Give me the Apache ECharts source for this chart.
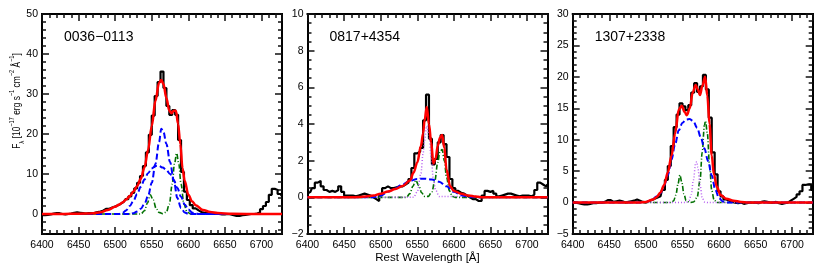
<!DOCTYPE html>
<html><head><meta charset="utf-8">
<script src="https://cdn.jsdelivr.net/npm/echarts@6/dist/echarts.min.js"></script>
<style>html,body{margin:0;padding:0;background:#fff}#c{width:830px;height:277px}</style>
</head><body><div id="c"></div>
<script>
// ---------------- DATA ----------------
const panelNames = ['0036\u22120113', '0817+4354', '1307+2338'];
const xTickStep = 50, xMinorStep = 10;
const yTickSteps = [10, 2, 5];
const yMinorSteps = [2, 0.5, 1];

// observed spectra (4 Å bins)
const waveObs = [6400,6404,6408,6412,6416,6420,6424,6428,6432,6436,6440,6444,6448,6452,6456,6460,6464,6468,6472,6476,6480,6484,6488,6492,6496,6500,6504,6508,6512,6516,6520,6524,6528,6532,6536,6540,6544,6548,6552,6556,6560,6564,6568,6572,6576,6580,6584,6588,6592,6596,6600,6604,6608,6612,6616,6620,6624,6628,6632,6636,6640,6644,6648,6652,6656,6660,6664,6668,6672,6676,6680,6684,6688,6692,6696,6700,6704,6708,6712,6716,6720,6724,6728];
const flux1 = [-0.3,-0.3,-0.2,-0.1,0.1,0.2,0.2,0.0,-0.1,0.0,
  0.1,0.3,0.4,0.3,0.2,0.1,0.2,0.2,0.3,0.5,
  0.6,0.9,1.3,1.3,1.6,1.9,2.2,2.6,3.1,3.7,
  4.4,5.3,6.4,7.8,9.5,12.0,15.4,19.8,24.6,29.5,
  33.0,35.6,31.5,27.0,24.8,26.0,24.8,18.5,10.5,5.6,
  3.5,2.2,1.4,0.9,0.5,0.3,0.2,0.1,0.1,0.0,
  0.0,-0.1,-0.1,0.0,-0.1,-0.3,-0.5,-0.5,-0.3,-0.2,
  -0.1,0.0,0.0,0.1,0.4,1.2,2.0,3.0,4.8,6.3,
  6.0,5.0,4.5];
const flux2 = [0.2,0.3,0.5,0.8,0.9,0.6,0.4,0.3,0.35,0.3,
  0.4,0.6,0.3,0.1,0.1,0.1,0.05,0.1,0.15,0.2,
  0.15,0.1,0.0,-0.1,-0.2,0.1,0.5,0.6,0.5,0.5,
  0.55,0.6,0.6,0.7,0.8,1.0,1.6,2.4,2.5,2.7,
  4.2,5.6,3.2,1.8,2.1,3.0,3.4,2.9,2.2,1.0,
  0.5,0.35,0.25,0.2,0.1,0.0,-0.1,-0.1,-0.2,-0.2,
  0.1,0.35,0.3,0.35,0.2,0.05,0.1,0.15,0.2,0.2,
  0.15,0.1,0.05,0.1,0.1,0.1,0.05,0.15,0.4,0.8,
  0.7,0.6,0.7];
const flux3 = [0.1,0.0,-0.1,-0.2,-0.3,-0.3,-0.2,-0.1,-0.1,0.0,
  0.0,0.1,0.4,0.4,0.1,0.2,0.3,0.2,0.0,0.1,
  0.2,0.3,0.5,0.3,0.1,0.0,0.2,0.4,0.6,0.8,
  1.0,2.0,3.6,5.8,9.0,12.0,14.0,15.8,15.3,14.7,
  15.5,17.5,19.0,17.6,18.5,20.3,18.0,13.5,8.0,4.5,
  1.8,1.0,0.5,0.3,0.1,0.0,-0.1,0.0,-0.2,-0.1,
  0.0,0.0,0.0,-0.1,0.1,0.2,0.1,0.0,0.0,0.1,
  -0.1,-0.2,-0.1,0.0,0.3,0.6,0.9,1.3,1.8,2.8,
  2.9,2.8,2.0];

// total fits (red)
const fitWave1 = [6400,6420,6440,6460,6470,6480,6490,6500,6505,6510,6515,6520,6525,6530,6535,6540,6545,6550,6555,6560,6563,6566,6570,6574,6577,6580,6583,6586,6589,6592,6595,6600,6605,6610,6620,6630,6640,6660,6700,6728];
const fit1 = [0,0,0.05,0.1,0.2,0.45,1.0,1.8,2.3,2.9,3.6,4.5,5.6,7.0,8.8,11.6,16.0,22.0,28.3,32.8,33.5,32.5,29.0,25.8,25.2,25.8,25.8,22.5,17.5,11.5,8.3,4.8,3.2,2.2,1.0,0.5,0.25,0.05,0,0];
const fitWave2 = [6400,6460,6470,6480,6490,6500,6510,6520,6530,6540,6545,6550,6555,6558,6560,6563,6566,6569,6572,6575,6578,6581,6584,6587,6590,6595,6600,6610,6620,6630,6640,6728];
const fit2 = [0,0,0.02,0.05,0.1,0.2,0.32,0.45,0.62,0.92,1.35,1.9,2.8,3.5,4.2,4.93,4.0,3.0,1.85,2.1,2.8,3.25,3.4,2.7,1.5,0.6,0.35,0.2,0.1,0.04,0,0];
const fitWave3 = [6400,6480,6490,6500,6510,6515,6520,6525,6530,6535,6540,6545,6549,6553,6556,6560,6564,6568,6571,6574,6577,6581,6584,6587,6590,6593,6597,6602,6610,6620,6630,6640,6728];
const fit3 = [0,0,0.03,0.1,0.5,0.9,1.6,2.8,4.8,7.4,11.0,14.8,15.4,14.4,13.9,15.0,17.5,18.7,18.0,17.1,18.5,20.0,17.0,12.5,7.5,4.5,2.5,1.2,0.6,0.3,0.1,0,0];

// components panel 1
const blueBroadWave1 = [6400,6505,6510,6515,6520,6525,6530,6535,6540,6545,6550,6555,6560,6565,6570,6575,6580,6585,6590,6595,6600,6605,6610,6615,6728];
const blueBroad1 = [0,0,0.3,0.9,2.0,3.3,5.0,6.8,8.6,10.2,11.4,12.0,12.0,11.6,11.0,10.0,8.5,6.5,4.3,2.4,1.1,0.4,0.1,0,0];
const blueNarrowWave1 = [6400,6520,6525,6530,6535,6540,6545,6550,6555,6560,6563,6566,6570,6575,6580,6585,6590,6595,6600,6728];
const blueNarrow1 = [0,0,0.2,0.6,1.3,2.5,4.5,7.8,12.5,18.0,21.3,20.5,17.5,13.0,8.5,4.0,1.5,0.4,0,0];
const greenWave1 = [6400,6535,6540,6544,6548,6552,6556,6560,6565,6570,6574,6578,6581,6584,6587,6590,6594,6598,6603,6728];
const green1 = [0,0,0.8,2.7,4.8,3.5,1.4,0.4,0.1,0.5,2.5,7.5,12.5,15.2,12.5,7.5,2.5,0.6,0,0];

// components panel 2
const blueWave2 = [6400,6490,6500,6510,6520,6530,6540,6550,6560,6570,6580,6590,6600,6610,6620,6630,6728];
const blue2 = [0,0,0.1,0.3,0.5,0.7,0.9,1.0,1.02,0.97,0.85,0.6,0.3,0.12,0.03,0,0];
const purpleWave2 = [6400,6545,6550,6555,6558,6560,6563,6566,6569,6572,6575,6580,6728];
const purple2 = [0,0,0.3,1.3,2.4,3.1,3.9,3.4,2.2,1.0,0.4,0.05,0];
const greenWave2 = [6400,6535,6540,6544,6548,6552,6556,6560,6565,6570,6574,6578,6581,6584,6587,6590,6594,6598,6602,6728];
const green2 = [0,0,0.2,0.6,0.93,0.65,0.25,0.05,0.05,0.3,0.9,1.9,2.5,2.6,2.0,1.1,0.35,0.05,0,0];

// components panel 3
const blueWave3 = [6400,6490,6500,6505,6510,6515,6520,6525,6530,6535,6540,6545,6550,6555,6560,6565,6570,6575,6580,6585,6590,6595,6600,6605,6610,6728];
const blue3 = [0,0,0.1,0.3,0.6,1.0,1.5,2.7,4.4,6.8,9.3,11.5,12.7,13.2,13.3,12.9,11.9,10.4,8.6,6.6,4.3,2.0,0.7,0.2,0,0];
const greenWave3 = [6400,6535,6538,6541,6544,6546.5,6549,6552,6555,6560,6565,6570,6574,6577,6580,6581.5,6584,6587,6590,6593,6597,6728];
const green3 = [0,0,0.3,1.2,3.0,4.4,3.3,1.4,0.3,0,0.1,0.8,3.5,8.0,12.3,13.0,11.0,6.0,2.0,0.5,0,0];
const purpleWave3 = [6400,6555,6559,6562,6565,6568,6569.5,6571,6574,6577,6580,6585,6728];
const purple3 = [0,0,0.3,1.3,3.6,6.2,6.5,5.6,2.8,0.8,0.1,0,0];

// ---------------- CHART ----------------
const FONT = '"Liberation Sans", Arial, Helvetica, sans-serif';
const X_MIN = 6400, X_MAX = 6728;
const panels = [
  { left: 42, yMin: -5, yMax: 50 },
  { left: 307.5, yMin: -2, yMax: 10 },
  { left: 572.7, yMin: -5, yMax: 30 }
];
const fmt = v => (v < 0 ? '\u2212' + Math.abs(v) : String(v));
function tickSpec(min, max, step) {
  if (Math.abs(min / step - Math.round(min / step)) < 1e-9) return { interval: step };
  return { splitNumber: Math.round((max - min) / step) };
}
function axis(kind, gi, pos, min, max, len, labels, spec, extraLabel) {
  return Object.assign({ type: 'value', gridIndex: gi, position: pos, min: min, max: max,
    axisLine: { show: true, onZero: false, lineStyle: { color: '#000', width: 2 } },
    axisTick: { show: true, inside: true, length: len, lineStyle: { color: '#111', width: 1.5 } },
    axisLabel: Object.assign({ show: labels, margin: kind === 'x' ? 6 : 4, fontSize: 10.5, color: '#000', fontFamily: FONT, formatter: fmt }, extraLabel || {}),
    splitLine: { show: false } }, spec);
}
const grids = [], xAxes = [], yAxes = [];
panels.forEach((p, gi) => {
  grids.push({ left: p.left, top: 14, width: 240, height: 220 });
  ['bottom', 'top'].forEach(pos => {
    xAxes.push(axis('x', gi, pos, X_MIN, X_MAX, 7, pos === 'bottom', tickSpec(X_MIN, X_MAX, xTickStep), { showMaxLabel: false }));
    xAxes.push(axis('x', gi, pos, X_MIN, X_MAX, 4, false, tickSpec(X_MIN, X_MAX, xMinorStep)));
  });
  ['left', 'right'].forEach(pos => {
    const major = tickSpec(p.yMin, p.yMax, yTickSteps[gi]);
    yAxes.push(axis('y', gi, pos, p.yMin, p.yMax, 7, pos === 'left', major, { showMinLabel: !!major.interval }));
    yAxes.push(axis('y', gi, pos, p.yMin, p.yMax, 4, false, tickSpec(p.yMin, p.yMax, yMinorSteps[gi])));
  });
});

function zip(xs, ys) { return xs.map((x, i) => [x, ys[i]]); }
function obs(gi, ys) {
  return { type: 'line', xAxisIndex: gi * 4, yAxisIndex: gi * 4, data: zip(waveObs, ys), step: 'middle',
    showSymbol: false, symbol: 'none', lineStyle: { color: '#000', width: 2.2 } };
}
function comp(gi, xs, ys, color, type, width) {
  return { type: 'line', xAxisIndex: gi * 4, yAxisIndex: gi * 4, data: zip(xs, ys), smooth: 0.35, smoothMonotone: 'x',
    showSymbol: false, symbol: 'none', lineStyle: { color: color, width: width, type: type } };
}
const BLUE = '#0000ff', GREEN = '#007000', PURPLE = '#b45cf0', RED = '#ff0000';
const DASH = [6, 3], DASHDOT = [5, 2, 1, 2], DOT = [1, 2];
const series = [
  obs(0, flux1),
  comp(0, greenWave1, green1, GREEN, DASHDOT, 1.6),
  comp(0, blueBroadWave1, blueBroad1, BLUE, DASH, 2),
  comp(0, blueNarrowWave1, blueNarrow1, BLUE, DASH, 2),
  comp(0, fitWave1, fit1, RED, 'solid', 2.5),
  obs(1, flux2),
  comp(1, greenWave2, green2, GREEN, DASHDOT, 1.6),
  comp(1, purpleWave2, purple2, PURPLE, DOT, 1.5),
  comp(1, blueWave2, blue2, BLUE, DASH, 2),
  comp(1, fitWave2, fit2, RED, 'solid', 2.5),
  obs(2, flux3),
  comp(2, greenWave3, green3, GREEN, DASHDOT, 1.6),
  comp(2, purpleWave3, purple3, PURPLE, DOT, 1.5),
  comp(2, blueWave3, blue3, BLUE, DASH, 2),
  comp(2, fitWave3, fit3, RED, 'solid', 2.5)
];

const graphics = panelNames.map((t, i) => ({
  type: 'text', x: panels[i].left + 22, y: 37,
  style: { text: t, fill: '#000', font: '14px ' + FONT, textAlign: 'left', textVerticalAlign: 'middle' }
}));
graphics.push({ type: 'text', x: 427.5, y: 258,
  style: { text: 'Rest Wavelength [\u00c5]', fill: '#000', font: '11.5px ' + FONT, textAlign: 'center', textVerticalAlign: 'middle' } });
graphics.push({ type: 'text', x: 17, y: 101, rotation: Math.PI / 2, scaleX: 0.8, scaleY: 1,
  style: {
    text: '{n|F}{sb|\u03bb}{n| [10}{sp|\u221217}{n| erg s}{sp|\u22121}{n| cm}{sp|\u22122}{n| \u00c5}{sp|\u22121}{n|]}',
    textAlign: 'center', textVerticalAlign: 'middle', fill: '#000',
    rich: {
      n: { fontSize: 10.5, fontFamily: FONT, lineHeight: 17, fill: '#000' },
      sp: { fontSize: 7, fontFamily: FONT, verticalAlign: 'top', lineHeight: 9, fill: '#000' },
      sb: { fontSize: 7.5, fontFamily: FONT, verticalAlign: 'bottom', lineHeight: 9, fill: '#000' }
    }
  } });

const chart = echarts.init(document.getElementById('c'));
chart.setOption({
  animation: false,
  grid: grids, xAxis: xAxes, yAxis: yAxes, series: series, graphic: graphics
});
</script></body></html>
